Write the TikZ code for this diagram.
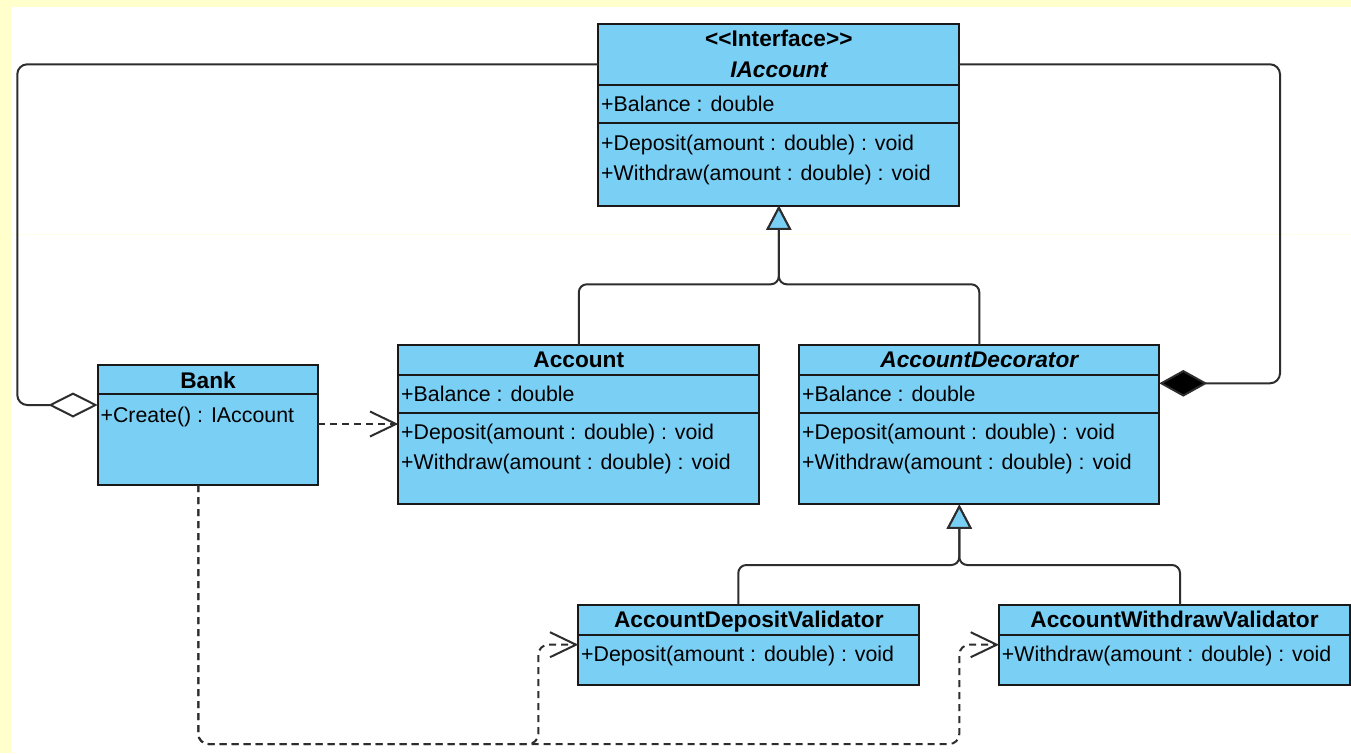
\documentclass[tikz,border=0pt]{standalone}
\usepackage{fontspec}
\setmainfont{Liberation Sans}
\usetikzlibrary{arrows.meta,calc}
\definecolor{umlblue}{RGB}{122,207,245}
\definecolor{paper}{RGB}{255,255,204}
\definecolor{edge}{RGB}{45,45,45}
\definecolor{frame}{RGB}{25,25,25}

\begin{document}
\begin{tikzpicture}[x=0.75pt, y=-0.75pt,
  classbox/.style={draw=frame, fill=umlblue, line width=1.5pt, outer sep=0pt, inner sep=0pt},
  compart/.style={draw=frame, line width=1.5pt},
  member/.style={anchor=base west, inner sep=0pt, xshift=2pt, font=\fontsize{16}{19}\selectfont},
  head/.style={anchor=base, inner sep=0pt, font=\fontsize{17}{20}\selectfont\bfseries},
  headit/.style={anchor=base, inner sep=0pt, font=\fontsize{17}{20}\selectfont\bfseries\itshape},
  link/.style={draw=edge, line width=1.5pt, line join=round},
  gen/.style={link, rounded corners=6pt, -{Triangle[length=18.2pt, width=18.75pt, fill=umlblue]}},
  agg/.style={link, rounded corners=7.5pt, -{Diamond[length=37pt, width=18.75pt, fill=white]}},
  comp/.style={link, rounded corners=7.5pt, -{Diamond[length=36pt, width=20pt, fill=black]}},
  dep/.style={link, rounded corners=7.5pt, dash pattern=on 5.25pt off 3.75pt, -{Straight Barb[length=19.5pt, width=18.75pt]}}
]
% page and margins
\useasboundingbox (0,0) rectangle (1351,753);
\fill[white] (0,0) rectangle (1351,753);
\fill[paper] (0,0) rectangle (11,753);
\fill[paper] (0,0) rectangle (1351,7.3);
\draw[paper!45, line width=0.75pt] (11,234) -- (1351,234);

% ---------- IAccount ----------
\node[classbox, minimum width=270.75pt, minimum height=136pt] (IAccount) at (778.8,115) {};
\draw[compart] ($(IAccount.north west)+(0,60.7)$) -- ($(IAccount.north east)+(0,60.7)$);
\draw[compart] ($(IAccount.north west)+(0,98.4)$) -- ($(IAccount.north east)+(0,98.4)$);
\node[head] (ia-st) at ($(IAccount.north)+(0,22.4)$) {<\kern0pt<Interface>\kern0pt>};
\node[headit] (ia-name) at ($(IAccount.north)+(0,53)$) {IAccount};
\node[member] (ia-bal) at ($(IAccount.north west)+(0,86.7)$) {+Balance : double};
\node[member] (ia-dep) at ($(IAccount.north west)+(0,125.7)$) {+Deposit(amount : double) : void};
\node[member] (ia-wd) at ($(IAccount.north west)+(0,155.7)$) {+Withdraw(amount : double) : void};

% ---------- Account ----------
\node[classbox, minimum width=270.75pt, minimum height=119.6pt] (Account) at (578.8,424.75) {};
\draw[compart] ($(Account.north west)+(0,29.5)$) -- ($(Account.north east)+(0,29.5)$);
\draw[compart] ($(Account.north west)+(0,67.5)$) -- ($(Account.north east)+(0,67.5)$);
\node[head] (ac-name) at ($(Account.north)+(0,22.3)$) {Account};
\node[member] (ac-bal) at ($(Account.north west)+(0,56.7)$) {+Balance : double};
\node[member] (ac-dep) at ($(Account.north west)+(0,94.3)$) {+Deposit(amount : double) : void};
\node[member] (ac-wd) at ($(Account.north west)+(0,124.3)$) {+Withdraw(amount : double) : void};

% ---------- AccountDecorator ----------
\node[classbox, minimum width=270pt, minimum height=119.6pt] (AccountDecorator) at (979.3,424.75) {};
\draw[compart] ($(AccountDecorator.north west)+(0,29.5)$) -- ($(AccountDecorator.north east)+(0,29.5)$);
\draw[compart] ($(AccountDecorator.north west)+(0,67.5)$) -- ($(AccountDecorator.north east)+(0,67.5)$);
\node[headit] (ad-name) at ($(AccountDecorator.north)+(0,22.3)$) {AccountDecorator};
\node[member] (ad-bal) at ($(AccountDecorator.north west)+(0,56.7)$) {+Balance : double};
\node[member] (ad-dep) at ($(AccountDecorator.north west)+(0,94.3)$) {+Deposit(amount : double) : void};
\node[member] (ad-wd) at ($(AccountDecorator.north west)+(0,124.3)$) {+Withdraw(amount : double) : void};

% ---------- Bank ----------
\node[classbox, minimum width=165.5pt, minimum height=90pt] (Bank) at (208,425) {};
\draw[compart] ($(Bank.north west)+(0,29)$) -- ($(Bank.north east)+(0,29)$);
\node[head] (bk-name) at ($(Bank.north)+(0,23.3)$) {Bank};
\node[member] (bk-cr) at ($(Bank.north west)+(0,57.3)$) {+Create() : IAccount};

% ---------- AccountDepositValidator ----------
\node[classbox, minimum width=255.75pt, minimum height=60pt] (DVal) at (748.8,645) {};
\draw[compart] ($(DVal.north west)+(0,30)$) -- ($(DVal.north east)+(0,30)$);
\node[head] (dv-name) at ($(DVal.north)+(0,22.3)$) {AccountDepositValidator};
\node[member] (dv-dep) at ($(DVal.north west)+(0,56.7)$) {+Deposit(amount : double) : void};

% ---------- AccountWithdrawValidator ----------
\node[classbox, minimum width=263.25pt, minimum height=60pt] (WVal) at (1174.5,645) {};
\draw[compart] ($(WVal.north west)+(0,30)$) -- ($(WVal.north east)+(0,30)$);
\node[head] (wv-name) at ($(WVal.north)+(0,22.3)$) {AccountWithdrawValidator};
\node[member] (wv-wd) at ($(WVal.north west)+(0,56.7)$) {+Withdraw(amount : double) : void};

% ---------- routing points ----------
\coordinate (aggT) at (17.3,64.3);
\coordinate (aggB) at (17.3,405);
\coordinate (compT) at (1280,64.3);
\coordinate (compB) at (1280,383.3);
\coordinate (genJ) at (778.8,284.3);
\coordinate (genK) at (959.3,565);
\coordinate (dvUp) at (738.3,565);
\coordinate (wvUp) at (1180,565);
\coordinate (depY) at (0,424);
\coordinate (bankB) at (198.3,744);
\coordinate (dvB) at (538.3,744);
\coordinate (wvB) at (959.3,744);
\coordinate (valY) at (0,644.7);

% aggregation: Bank holds IAccount
\draw[agg] (IAccount.west |- aggT) -- (aggT) -- (aggB) -- (Bank.west |- aggB);
% composition: AccountDecorator wraps IAccount
\draw[comp] (IAccount.east |- compT) -- (compT) -- (compB) -- (AccountDecorator.east |- compB);

% generalisations
\draw[gen] (Account.north) -- (Account.north |- genJ) -- (genJ) -- (IAccount.south);
\draw[gen] (AccountDecorator.north) -- (AccountDecorator.north |- genJ) -- (genJ) -- (IAccount.south);
\draw[gen] (DVal.north -| dvUp) -- (dvUp) -- (genK) -- (AccountDecorator.south -| genK);
\draw[gen] (WVal.north -| wvUp) -- (wvUp) -- (genK) -- (AccountDecorator.south -| genK);

% dependencies
\draw[dep] (Bank.east |- depY) -- (Account.west |- depY);
\draw[dep] (Bank.south -| bankB) -- (bankB) -- (dvB) -- (dvB |- valY) -- (DVal.west |- valY);
\draw[dep] (Bank.south -| bankB) -- (bankB) -- (wvB) -- (wvB |- valY) -- (WVal.west |- valY);
\end{tikzpicture}
\end{document}
